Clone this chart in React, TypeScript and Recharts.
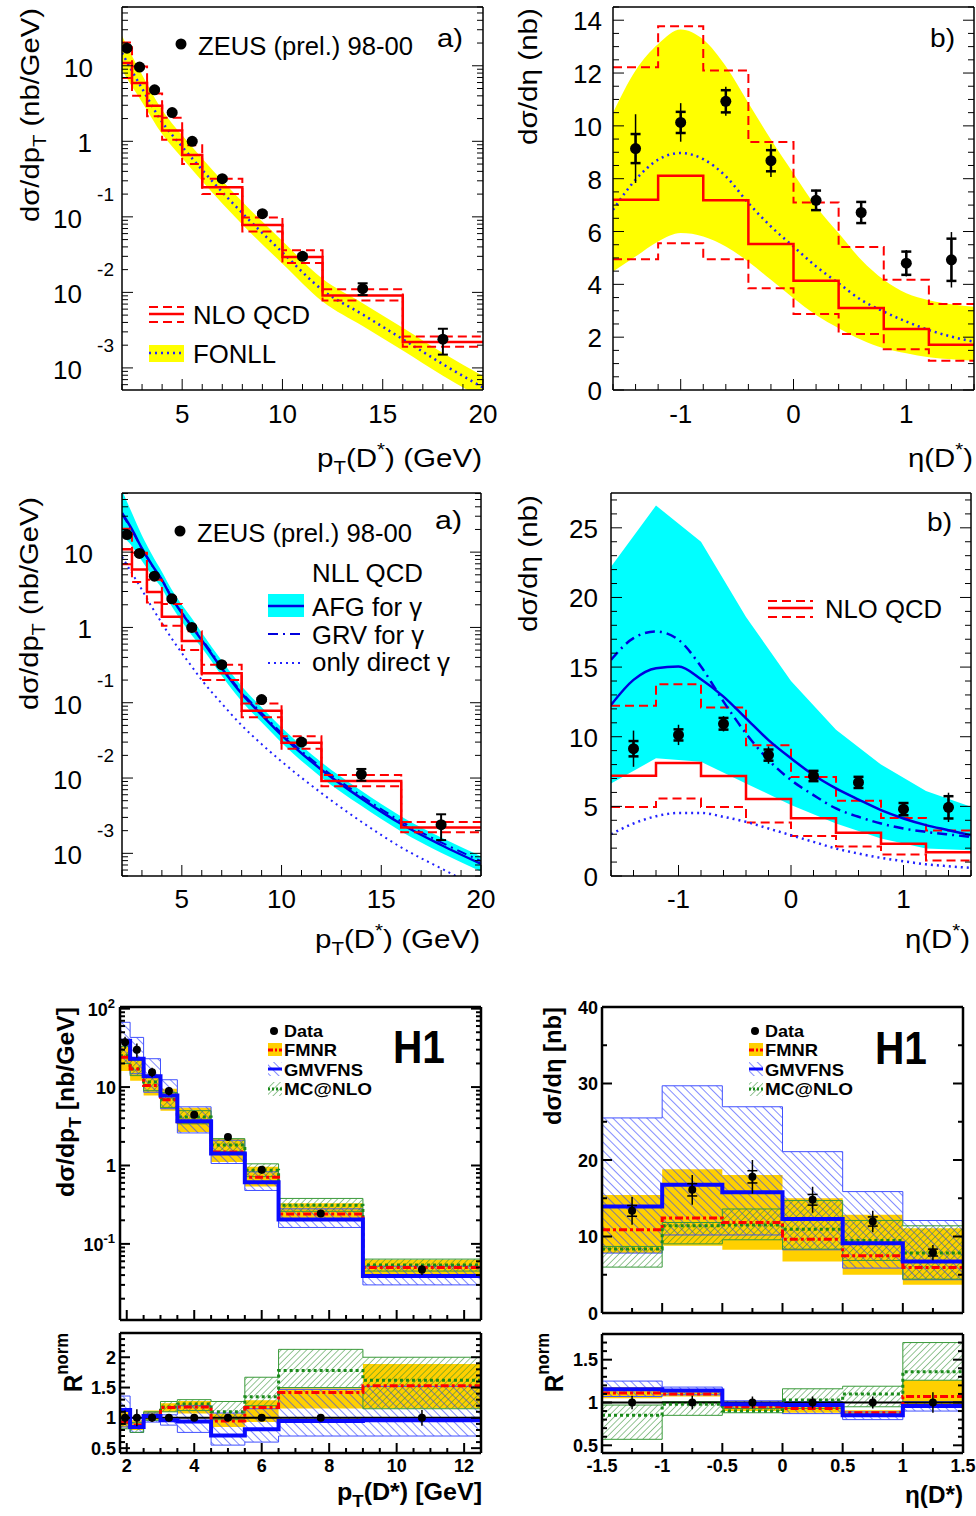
import React from 'react'
import { Area, ComposedChart, ErrorBar, Line, ReferenceLine, Scatter, XAxis, YAxis } from 'recharts'

const SANS = '"Liberation Sans", Arial, Helvetica, sans-serif'
const RED = '#ff0000'
const YELLOW = '#ffff00'
const CYAN = '#00ffff'
const FBLUE = '#2222ff'
const ABLUE = '#0000dd'
const GOLD = '#ffd000'
const GBLUE = '#0a0aff'
const GREEN = '#1a8a1a'

// ---- ZEUS pT (top / middle left)
const ZEUS_PT_X = [2.25, 2.875, 3.625, 4.5, 5.5, 7, 9, 11, 14, 18]
const ZEUS_PT_Y = [17.1, 9.6, 4.8, 2.4, 1.0, 0.32, 0.11, 0.03, 0.0112, 0.0024]
const ZEUS_PT_ERR = [0.8, 0.4, 0.2, 0.1, 0.04, 0.015, 0.005, 0.002, 0.002, 0.0009]

const NLO_PT_EDGES = [2, 2.5, 3.25, 4, 5, 6, 8, 10, 12, 16, 20]
const NLO_PT_MID = [10.9, 5.9, 2.95, 1.39, 0.66, 0.247, 0.078, 0.0295, 0.0091, 0.0022]
const NLO_PT_UP = [20.4, 9.8, 4.3, 2.05, 0.89, 0.32, 0.098, 0.036, 0.011, 0.0026]
const NLO_PT_LO = [6.9, 4.0, 2.15, 1.05, 0.5, 0.2, 0.064, 0.0245, 0.0078, 0.0019]

const FONLL_PT_X = [2, 2.5, 3, 4, 5, 6, 8, 10, 12, 14, 16, 18, 20]
const FONLL_PT_MID = [14.8, 8.5, 5.0, 1.8, 0.85, 0.417, 0.112, 0.0339, 0.0107, 0.0051, 0.0024, 0.00112, 0.00055]
const FONLL_PT_HI = [25, 13.5, 7.6, 2.6, 1.2, 0.59, 0.158, 0.048, 0.0151, 0.0072, 0.0034, 0.00158, 0.00078]
const FONLL_PT_LO = [8.7, 5.3, 3.3, 1.25, 0.6, 0.295, 0.079, 0.024, 0.0076, 0.0036, 0.0017, 0.00079, 0.00039]

const NLL_PT_X = [2, 2.5, 3, 3.5, 4, 4.5, 5, 5.5, 6, 7, 8, 9, 10, 12, 14, 16, 18, 20]
const AFG_PT = [33.1, 20, 11.2, 6.76, 4.27, 2.45, 1.55, 1.02, 0.676, 0.288, 0.132, 0.0692, 0.0372, 0.0129, 0.00537, 0.00245, 0.00129, 0.000724]
const AFG_PT_HI = [66, 33, 16.6, 9.3, 5.5, 3.16, 2.0, 1.32, 0.85, 0.363, 0.166, 0.087, 0.0468, 0.0162, 0.00676, 0.00309, 0.00162, 0.000912]
const AFG_PT_LO = [16.6, 12, 7.6, 4.9, 3.3, 1.9, 1.2, 0.79, 0.537, 0.229, 0.105, 0.055, 0.0295, 0.0102, 0.00427, 0.00195, 0.00102, 0.000575]
const GRV_PT = [32, 19.5, 11, 6.7, 4.3, 2.5, 1.58, 1.05, 0.7, 0.3, 0.138, 0.073, 0.0395, 0.0138, 0.0058, 0.00265, 0.0014, 0.00079]
const DIR_PT = [8.7, 5.25, 3.16, 1.86, 1.14, 0.708, 0.457, 0.302, 0.2, 0.0977, 0.0501, 0.0282, 0.0166, 0.00631, 0.00263, 0.0012, 0.00063, 0.000339]

// ---- ZEUS eta (top / middle right)
const ZEUS_ETA_X = [-1.4, -1.0, -0.6, -0.2, 0.2, 0.6, 1.0, 1.4]
const ZEUS_ETA_Y = [9.14, 10.13, 10.93, 8.68, 7.18, 6.72, 4.8, 4.93]
const ZEUS_ETA_STAT = [0.55, 0.4, 0.42, 0.4, 0.37, 0.4, 0.44, 0.8]
const ZEUS_ETA_TOT = [1.3, 0.73, 0.55, 0.62, 0.4, 0.42, 0.5, 1.05]

const NLO_ETA_EDGES = [-1.6, -1.2, -0.8, -0.4, 0, 0.4, 0.8, 1.2, 1.6]
const NLO_ETA_MID = [7.2, 8.11, 7.18, 5.53, 4.14, 3.1, 2.31, 1.71]
const NLO_ETA_UP = [12.22, 13.77, 12.1, 9.39, 7.1, 5.41, 4.17, 3.26]
const NLO_ETA_LO = [4.95, 5.56, 4.95, 3.85, 2.88, 2.12, 1.54, 1.11]

const ETA_CURVE_X = [-1.6, -1.4, -1.2, -1.0, -0.8, -0.6, -0.4, -0.2, 0, 0.2, 0.4, 0.6, 0.8, 1.0, 1.2, 1.4, 1.6]
const FONLL_ETA_MID = [6.82, 7.96, 8.72, 8.97, 8.74, 8.09, 7.08, 6.19, 5.43, 4.68, 4.04, 3.41, 2.97, 2.59, 2.27, 2.02, 1.83]
const FONLL_ETA_HI = [10.5, 12.1, 13.1, 13.65, 13.27, 12.26, 10.87, 9.48, 8.2, 6.95, 5.94, 4.93, 4.17, 3.66, 3.4, 3.25, 3.15]
const FONLL_ETA_LO = [4.49, 5.05, 5.62, 5.94, 5.81, 5.43, 4.86, 4.17, 3.47, 2.84, 2.34, 1.9, 1.58, 1.39, 1.24, 1.16, 1.11]

const NLL_BAND_X = [-1.6, -1.2, -0.8, -0.4, 0, 0.4, 0.8, 1.2, 1.6]
const NLL_ETA_HI = [22.2, 26.6, 24.0, 18.6, 14.0, 10.5, 8.0, 6.1, 4.97]
const NLL_ETA_LO = [6.65, 8.45, 8.2, 6.65, 5.09, 3.77, 2.69, 1.97, 1.85]
const AFG_ETA = [12.28, 14.08, 14.92, 15.04, 14.13, 12.88, 11.32, 9.76, 8.45, 7.25, 6.29, 5.49, 4.73, 4.13, 3.65, 3.29, 2.93]
const GRV_ETA = [15.52, 17.08, 17.56, 16.96, 15.04, 12.52, 10.24, 8.33, 6.89, 5.81, 4.85, 4.25, 3.77, 3.41, 3.17, 2.98, 2.81]
const DIR_ETA = [3.0, 3.77, 4.29, 4.53, 4.53, 4.25, 3.89, 3.41, 2.93, 2.45, 1.97, 1.61, 1.3, 1.06, 0.84, 0.7, 0.58]

// ---- H1 pT
const H1_PT_EDGES = [1.8, 2.1, 2.5, 3.0, 3.5, 4.5, 5.5, 6.5, 9.0, 12.5]
const H1_PT_X = [1.95, 2.3, 2.75, 3.25, 4.0, 5.0, 6.0, 7.75, 10.75]
const H1_PT_Y = [37.4, 29.9, 15.5, 8.9, 4.45, 2.31, 0.88, 0.245, 0.047]
const H1_PT_ERR = [6.5, 6, 2.2, 1.1, 0.45, 0.22, 0.09, 0.025, 0.007]
const FMNR_PT = [24, 17, 10.5, 6.9, 3.6, 1.49, 0.71, 0.24, 0.05]
const FMNR_PT_LO = [16, 12, 7.8, 5.0, 2.67, 1.11, 0.54, 0.2, 0.04]
const FMNR_PT_HI = [33, 23, 14.5, 9.5, 5.46, 2.2, 0.96, 0.33, 0.063]
const GMV_PT = [39, 23, 13.7, 7.8, 3.66, 1.42, 0.61, 0.205, 0.039]
const GMV_PT_LO = [20, 14.8, 8.6, 5.3, 2.6, 1.06, 0.48, 0.162, 0.03]
const GMV_PT_HI = [67, 43, 23, 12.4, 5.6, 2.1, 0.83, 0.28, 0.052]
const MC_PT = [25, 17, 11.6, 7, 4.15, 1.82, 0.87, 0.31, 0.054]
const MC_PT_LO = [20, 14, 9, 5.5, 3.4, 1.5, 0.72, 0.26, 0.045]
const MC_PT_HI = [33, 22, 14, 8.5, 5.0, 2.2, 1.05, 0.38, 0.064]

const H1_PT_R = [1, 1, 1, 1, 1, 1, 1, 1, 1]
const H1_PT_RERR = [0.12, 0.14, 0.07, 0.06, 0.04, 0.05, 0.05, 0.05, 0.13]
const FMNR_PT_R = [0.93, 0.88, 1.04, 1.17, 1.18, 0.95, 1.17, 1.42, 1.53]
const FMNR_PT_R_LO = [0.84, 0.8, 0.96, 1.1, 1.07, 0.85, 0.93, 1.155, 1.155]
const FMNR_PT_R_HI = [1.1, 0.96, 1.12, 1.24, 1.28, 1.07, 1.29, 1.49, 1.89]
const GMV_PT_R = [1.13, 0.85, 1.03, 0.96, 0.94, 0.71, 0.81, 0.95, 0.96]
const GMV_PT_R_LO = [0.85, 0.76, 0.93, 0.88, 0.76, 0.55, 0.6, 0.7, 0.7]
const GMV_PT_R_HI = [1.36, 1.0, 1.08, 1.05, 1.2, 1.08, 1.15, 1.47, 1.52]
const MC_PT_R = [0.92, 0.85, 1.03, 1.18, 1.23, 1.1, 1.35, 1.78, 1.62]
const MC_PT_R_LO = [0.82, 0.76, 0.96, 1.1, 1.12, 0.97, 1.2, 1.5, 1.15]
const MC_PT_R_HI = [1.0, 0.92, 1.1, 1.27, 1.3, 1.27, 1.67, 2.13, 2.0]

// ---- H1 eta
const H1_ETA_EDGES = [-1.5, -1, -0.5, 0, 0.5, 1, 1.5]
const H1_ETA_X = [-1.25, -0.75, -0.25, 0.25, 0.75, 1.25]
const H1_ETA_Y = [13.35, 16.1, 17.8, 14.8, 11.96, 7.9]
const H1_ETA_STAT = [0.7, 0.8, 0.8, 0.7, 0.6, 0.45]
const H1_ETA_TOT = [1.8, 1.95, 2.2, 1.7, 1.4, 1.0]
const FMNR_ETA = [10.87, 12.43, 11.83, 9.65, 7.48, 5.96]
const FMNR_ETA_LO = [7.83, 8.78, 8.26, 6.74, 5.0, 3.7]
const FMNR_ETA_HI = [15.43, 18.78, 18.04, 15.0, 12.83, 11.09]
const GMV_ETA = [13.91, 16.78, 15.78, 12.3, 9.13, 6.74]
const GMV_ETA_LO = [7.83, 10.2, 10.2, 8.26, 5.87, 4.35]
const GMV_ETA_HI = [25.5, 29.7, 26.96, 21.09, 15.87, 12.09]
const MC_ETA = [8.35, 11.4, 11.5, 10.96, 9.48, 7.83]
const MC_ETA_LO = [6.0, 9.04, 9.57, 8.35, 6.87, 4.43]
const MC_ETA_HI = [8.7, 11.83, 13.6, 14.7, 12.1, 11.4]

const H1_ETA_R = [1, 1, 1, 1, 1, 1]
const H1_ETA_RERR = [0.08, 0.08, 0.07, 0.07, 0.07, 0.12]
const FMNR_ETA_R = [1.11, 1.1, 0.95, 0.93, 0.88, 1.07]
const FMNR_ETA_R_LO = [1.05, 1.07, 0.9, 0.88, 0.83, 0.97]
const FMNR_ETA_R_HI = [1.18, 1.14, 0.97, 0.95, 0.91, 1.26]
const GMV_ETA_R = [1.155, 1.14, 0.98, 0.97, 0.85, 0.96]
const GMV_ETA_R_LO = [1.07, 1.09, 0.93, 0.87, 0.8, 0.9]
const GMV_ETA_R_HI = [1.25, 1.18, 1.02, 1.01, 0.89, 1.01]
const MC_ETA_R = [0.85, 0.98, 0.9, 1.03, 1.1, 1.36]
const MC_ETA_R_LO = [0.57, 0.85, 0.88, 0.93, 0.95, 1.26]
const MC_ETA_R_HI = [0.97, 1.01, 0.93, 1.16, 1.19, 1.7]

// ---- major tick values (labels)
const ZP_X_MAJOR = [5, 10, 15, 20]
const ZP_Y_MAJOR = [0.001, 0.01, 0.1, 1, 10]
const ZE_X_MAJOR = [-1, 0, 1]
const ZE_Y_MAJOR = [0, 2, 4, 6, 8, 10, 12, 14]
const ZE2_Y_MAJOR = [0, 5, 10, 15, 20, 25]
const H1P_X_MAJOR = [2, 4, 6, 8, 10, 12]
const H1P_Y_MAJOR = [0.1, 1, 10, 100]
const H1P_R_MAJOR = [0.5, 1, 1.5, 2]
const H1E_X_MAJOR = [-1.5, -1, -0.5, 0, 0.5, 1, 1.5]
const H1E_Y_MAJOR = [0, 10, 20, 30, 40]
const H1E_R_MAJOR = [0.5, 1, 1.5]

// minor tick positions
function linTicks(lo: number, hi: number, step: number) {
  const out: number[] = []
  const n0 = Math.ceil(lo / step - 1e-9)
  const n1 = Math.floor(hi / step + 1e-9)
  for (let n = n0; n <= n1; n++) out.push(Number((n * step).toFixed(6)) + 0)
  return out
}
function logTicks(lo: number, hi: number) {
  const out: number[] = []
  for (let e = -5; e <= 3; e++)
    for (let m = 1; m <= 9; m++) {
      const v = Number((m * Math.pow(10, e)).toPrecision(6))
      if (v >= lo && v <= hi) out.push(v)
    }
  return out
}
const isMajor = (major: number[], v: number) =>
  major.some((m) => Math.abs(m - v) <= 1e-6 * Math.max(Math.abs(m), 1e-9))

// data shaping
const stepPts = (edges: number[], vals: number[]) =>
  edges.map((x, i) => ({ x, y: vals[Math.min(i, vals.length - 1)] }))
const stepBand = (edges: number[], lo: number[], hi: number[]) =>
  edges.map((x, i) => {
    const k = Math.min(i, lo.length - 1)
    return { x, r: [lo[k], hi[k]] }
  })
const curvePts = (xs: number[], ys: number[]) => xs.map((x, i) => ({ x, y: ys[i] }))
const curveBand = (xs: number[], lo: number[], hi: number[]) => xs.map((x, i) => ({ x, r: [lo[i], hi[i]] }))
const points = (xs: number[], ys: number[], e1: number[], e2?: number[]) =>
  xs.map((x, i) => ({ x, y: ys[i], e1: e1[i], e2: e2 ? e2[i] : 0 }))

type LabelFn = (v: number, x: number, y: number) => React.ReactNode

function tickFn(side: 'b' | 't' | 'l' | 'r', major: number[], len: number, minorLen: number, sw: number, label?: LabelFn) {
  return (p: any) => {
    const v = Number(p.payload?.value)
    const x = Number(p.x)
    const y = Number(p.y)
    const big = isMajor(major, v)
    const L = big ? len : minorLen
    const x2 = side === 'l' ? x + L : side === 'r' ? x - L : x
    const y2 = side === 'b' ? y - L : side === 't' ? y + L : y
    return (
      <g>
        <line x1={x} y1={y} x2={x2} y2={y2} stroke="#000" strokeWidth={sw} />
        {big && label ? label(v, x, y) : null}
      </g>
    )
  }
}

const txt = (x: number, y: number, s: string, anchor = 'end', size = 26, bold = false) => (
  <text x={x} y={y} textAnchor={anchor} fontFamily={SANS} fontSize={size} fontWeight={bold ? 700 : 400} fill="#000">
    {s}
  </text>
)

const zeusLogY: LabelFn = (v, x, y) => {
  const n = Math.round(Math.log10(v))
  if (n === 0) return txt(x - 30, y + 11, '1')
  if (n === 1) return txt(x - 29, y + 11, '10')
  return (
    <g>
      {txt(x - 40, y + 11, '10')}
      {txt(x - 8, y - 16, String(n), 'end', 19)}
    </g>
  )
}
const zeusLinY = (off: number): LabelFn => (v, x, y) => txt(x - off, y + 10, String(v))
const zeusX = (off: number): LabelFn => (v, x, y) => txt(x, y + off, String(v), 'middle')
const h1LogY: LabelFn = (v, x, y) => {
  const n = Math.round(Math.log10(v))
  if (n === 0) return txt(x - 4, y + 7, '1', 'end', 18, true)
  if (n === 1) return txt(x - 4, y + 7, '10', 'end', 18, true)
  return (
    <text x={x - 5} y={y + 7} textAnchor="end" fontFamily={SANS} fontSize={18} fontWeight={700}>
      10<tspan dy={-8} fontSize={13}>{String(n)}</tspan>
    </text>
  )
}
const h1LinY: LabelFn = (v, x, y) => txt(x - 4, y + 6.5, String(v), 'end', 18, true)
const h1X: LabelFn = (v, x, y) => txt(x, y + 19, String(v), 'middle', 18, true)

type PanelProps = {
  box: number[]
  plot: number[]
  xDomain: [number, number]
  yDomain: [number, number]
  yLog?: boolean
  xTicks: number[]
  xMajor: number[]
  yTicks: number[]
  yMajor: number[]
  xLabel?: LabelFn
  yLabel?: LabelFn
  len: number
  minorLen: number
  tickW: number
  frameW: number
  children?: React.ReactNode
}

function Panel(p: PanelProps) {
  const [bx, by, bw, bh] = p.box
  const [l, t, r, b] = p.plot
  const margin = { left: l - bx - 1, top: t - by - 1, right: bx + bw - r - 1, bottom: by + bh - b - 1 }
  const axisLine = { stroke: '#000', strokeWidth: p.frameW }
  const scale = p.yLog ? 'log' : 'linear'
  return (
    <div style={{ position: 'absolute', left: bx, top: by }}>
      <ComposedChart width={bw} height={bh} margin={margin}>
        <XAxis xAxisId={0} type="number" dataKey="x" orientation="bottom" height={1} domain={p.xDomain}
          allowDataOverflow ticks={p.xTicks} interval={0} tickSize={0} tickMargin={0} tickLine={false} axisLine={axisLine}
          tick={tickFn('b', p.xMajor, p.len, p.minorLen, p.tickW, p.xLabel)} />
        <XAxis xAxisId="top" type="number" orientation="top" height={1} domain={p.xDomain}
          allowDataOverflow ticks={p.xTicks} interval={0} tickSize={0} tickMargin={0} tickLine={false} axisLine={axisLine}
          tick={tickFn('t', p.xMajor, p.len, p.minorLen, p.tickW)} />
        <YAxis yAxisId={0} type="number" dataKey="y" orientation="left" width={1} scale={scale} domain={p.yDomain}
          allowDataOverflow ticks={p.yTicks} interval={0} tickSize={0} tickMargin={0} tickLine={false} axisLine={axisLine}
          tick={tickFn('l', p.yMajor, p.len, p.minorLen, p.tickW, p.yLabel)} />
        <YAxis yAxisId="right" type="number" orientation="right" width={1} scale={scale} domain={p.yDomain}
          allowDataOverflow ticks={p.yTicks} interval={0} tickSize={0} tickMargin={0} tickLine={false} axisLine={axisLine}
          tick={tickFn('r', p.yMajor, p.len, p.minorLen, p.tickW)} />
        {p.children}
      </ComposedChart>
    </div>
  )
}

function stepLine(key: string, edges: number[], vals: number[], stroke: string, width: number, dash?: string) {
  return (
    <Line key={key} data={stepPts(edges, vals)} dataKey="y" type="stepAfter" stroke={stroke} strokeWidth={width}
      strokeDasharray={dash} dot={false} activeDot={false} isAnimationActive={false} />
  )
}
function curveLine(key: string, xs: number[], ys: number[], stroke: string, width: number, dash?: string, type: any = 'monotone') {
  return (
    <Line key={key} data={curvePts(xs, ys)} dataKey="y" type={type} stroke={stroke} strokeWidth={width}
      strokeDasharray={dash} dot={false} activeDot={false} isAnimationActive={false} />
  )
}
function band(key: string, data: any[], fill: string, type: any, stroke = 'none', sw = 1) {
  return (
    <Area key={key} data={data} dataKey="r" type={type} fill={fill} fillOpacity={1} stroke={stroke} strokeWidth={sw}
      dot={false} activeDot={false} isAnimationActive={false} />
  )
}
// cap = half-width of the error-bar cap
function dataPts(key: string, pts: any[], r: number, cap: number, sw: number, cap2 = 0, sw2 = 0) {
  return (
    <Scatter key={key} data={pts} dataKey="y" isAnimationActive={false}
      shape={(s: any) => <circle cx={s.cx} cy={s.cy} r={r} fill="#000" />}>
      <ErrorBar dataKey="e1" direction="y" width={cap} stroke="#000" strokeWidth={sw} />
      {sw2 > 0 ? <ErrorBar dataKey="e2" direction="y" width={cap2} stroke="#000" strokeWidth={sw2} /> : null}
    </Scatter>
  )
}

const ZEUS_STYLE = { len: 11, minorLen: 6, tickW: 1, frameW: 1.5 }
const H1_STYLE = { len: 10, minorLen: 5, tickW: 2, frameW: 2.5 }

function Txt({ x, y, size, bold, len, rot, anchor, children }: any) {
  const tr = rot ? `translate(${x},${y}) rotate(-90)` : undefined
  return (
    <text x={rot ? 0 : x} y={rot ? 0 : y} transform={tr} fontFamily={SANS} fontSize={size} fontWeight={bold ? 700 : 400}
      textAnchor={anchor ?? 'start'} textLength={len} lengthAdjust={len ? 'spacingAndGlyphs' : undefined} fill="#000">
      {children}
    </text>
  )
}

function H1Legend({ x, y }: { x: number; y: number }) {
  // x: text start, y: baseline of "Data"
  const sx = x - 16
  return (
    <g>
      <circle cx={x - 10} cy={y - 6} r={4} fill="#000" />
      <Txt x={x} y={y} size={17} bold len={39}>Data</Txt>
      <rect x={sx} y={y + 6} width={14} height={13} fill={GOLD} />
      <line x1={sx} x2={sx + 14} y1={y + 13} y2={y + 13} stroke={RED} strokeWidth={3} strokeDasharray="5 2 2 2" />
      <Txt x={x} y={y + 19} size={17} bold len={53}>FMNR</Txt>
      <rect x={sx} y={y + 25} width={14} height={14} fill="url(#hBlue)" />
      <line x1={sx} x2={sx + 14} y1={y + 32} y2={y + 32} stroke={GBLUE} strokeWidth={3} />
      <Txt x={x} y={y + 39} size={17} bold len={79}>GMVFNS</Txt>
      <rect x={sx} y={y + 45} width={14} height={14} fill="url(#hGreen)" />
      <line x1={sx} x2={sx + 14} y1={y + 52} y2={y + 52} stroke={GREEN} strokeWidth={3} strokeDasharray="2 2" />
      <Txt x={x} y={y + 58} size={17} bold len={88}>MC@NLO</Txt>
    </g>
  )
}

function Overlay() {
  return (
    <svg width={976} height={1516} style={{ position: 'absolute', left: 0, top: 0, pointerEvents: 'none' }}>
      {/* ---- top left */}
      <circle cx={181} cy={44} r={5.5} fill="#000" />
      <Txt x={198} y={55} size={26} len={215}>ZEUS (prel.) 98-00</Txt>
      <Txt x={437} y={47} size={26} len={26}>a)</Txt>
      <line x1={149} x2={184} y1={307} y2={307} stroke={RED} strokeWidth={2} strokeDasharray="9 5" />
      <line x1={149} x2={184} y1={314} y2={314} stroke={RED} strokeWidth={2.5} />
      <line x1={149} x2={184} y1={322} y2={322} stroke={RED} strokeWidth={2} strokeDasharray="9 5" />
      <Txt x={193} y={324} size={26} len={117}>NLO QCD</Txt>
      <rect x={149} y={345} width={35} height={17} fill={YELLOW} />
      <line x1={149} x2={184} y1={353} y2={353} stroke={FBLUE} strokeWidth={2.5} strokeDasharray="2 4" />
      <Txt x={193} y={363} size={26} len={83}>FONLL</Txt>
      <Txt x={39} y={222} size={26} rot len={214}>
        dσ/dp<tspan dy={7} fontSize={18}>T</tspan><tspan dy={-7}> (nb/GeV)</tspan>
      </Txt>
      <Txt x={317} y={467} size={26} len={165}>
        p<tspan dy={7} fontSize={18}>T</tspan><tspan dy={-7}>(D</tspan><tspan dy={-11} fontSize={18}>*</tspan><tspan dy={11}>) (GeV)</tspan>
      </Txt>

      {/* ---- top right */}
      <Txt x={930} y={47} size={26} len={25}>b)</Txt>
      <Txt x={537} y={145} size={26} rot len={137}>dσ/dη (nb)</Txt>
      <Txt x={908} y={467} size={26} len={65}>
        η(D<tspan dy={-11} fontSize={18}>*</tspan><tspan dy={11}>)</tspan>
      </Txt>

      {/* ---- middle left */}
      <circle cx={180} cy={531} r={5.5} fill="#000" />
      <Txt x={197} y={542} size={26} len={215}>ZEUS (prel.) 98-00</Txt>
      <Txt x={435} y={529} size={26} len={27}>a)</Txt>
      <Txt x={312} y={582} size={26} len={111}>NLL QCD</Txt>
      <rect x={268} y={594} width={36} height={23} fill={CYAN} />
      <line x1={268} x2={304} y1={606} y2={606} stroke={ABLUE} strokeWidth={2.5} />
      <Txt x={312} y={616} size={26} len={110}>AFG for γ</Txt>
      <line x1={268} x2={304} y1={634} y2={634} stroke={ABLUE} strokeWidth={2} strokeDasharray="10 5 2 5" />
      <Txt x={312} y={644} size={26} len={112}>GRV for γ</Txt>
      <line x1={268} x2={304} y1={663} y2={663} stroke={FBLUE} strokeWidth={2} strokeDasharray="2 4" />
      <Txt x={312} y={671} size={26} len={138}>only direct γ</Txt>
      <Txt x={38} y={710} size={26} rot len={213}>
        dσ/dp<tspan dy={7} fontSize={18}>T</tspan><tspan dy={-7}> (nb/GeV)</tspan>
      </Txt>
      <Txt x={315} y={948} size={26} len={165}>
        p<tspan dy={7} fontSize={18}>T</tspan><tspan dy={-7}>(D</tspan><tspan dy={-11} fontSize={18}>*</tspan><tspan dy={11}>) (GeV)</tspan>
      </Txt>

      {/* ---- middle right */}
      <Txt x={927} y={531} size={26} len={25}>b)</Txt>
      <line x1={768} x2={813} y1={601} y2={601} stroke={RED} strokeWidth={2} strokeDasharray="9 5" />
      <line x1={768} x2={813} y1={608} y2={608} stroke={RED} strokeWidth={2.5} />
      <line x1={768} x2={813} y1={617} y2={617} stroke={RED} strokeWidth={2} strokeDasharray="9 5" />
      <Txt x={825} y={618} size={26} len={117}>NLO QCD</Txt>
      <Txt x={537} y={632} size={26} rot len={137}>dσ/dη (nb)</Txt>
      <Txt x={905} y={948} size={26} len={65}>
        η(D<tspan dy={-11} fontSize={18}>*</tspan><tspan dy={11}>)</tspan>
      </Txt>

      {/* ---- H1 pT */}
      <H1Legend x={284} y={1037} />
      <Txt x={393} y={1063} size={46} bold len={52}>H1</Txt>
      <Txt x={74} y={1197} size={24} bold rot len={190}>
        dσ/dp<tspan dy={7} fontSize={17}>T</tspan><tspan dy={-7}> [nb/GeV]</tspan>
      </Txt>
      <Txt x={82} y={1392} size={26} bold rot len={59}>
        R<tspan dy={-14} fontSize={18}>norm</tspan>
      </Txt>
      <Txt x={337} y={1500} size={23} bold len={145}>
        p<tspan dy={7} fontSize={17}>T</tspan><tspan dy={-7}>(D*) [GeV]</tspan>
      </Txt>

      {/* ---- H1 eta */}
      <H1Legend x={765} y={1037} />
      <Txt x={875} y={1064} size={46} bold len={52}>H1</Txt>
      <Txt x={561} y={1125} size={24} bold rot len={118}>dσ/dη [nb]</Txt>
      <Txt x={563} y={1392} size={26} bold rot len={59}>
        R<tspan dy={-14} fontSize={18}>norm</tspan>
      </Txt>
      <Txt x={905} y={1503} size={23} bold len={58}>η(D*)</Txt>
    </svg>
  )
}

function Patterns() {
  return (
    <svg width={0} height={0} style={{ position: 'absolute' }}>
      <defs>
        <pattern id="hBlue" patternUnits="userSpaceOnUse" width={6} height={6} patternTransform="rotate(-45)">
          <line x1={0} y1={0} x2={0} y2={6} stroke="#2f3fff" strokeWidth={1.2} />
        </pattern>
        <pattern id="hGreen" patternUnits="userSpaceOnUse" width={4.5} height={4.5} patternTransform="rotate(45)">
          <line x1={0} y1={0} x2={0} y2={4.5} stroke="#2a8a2a" strokeWidth={1} />
        </pattern>
      </defs>
    </svg>
  )
}

export default function App() {
  return (
    <div style={{ position: 'absolute', left: 0, top: 0, width: 976, height: 1516, background: '#fff', overflow: 'hidden' }}>
      <Patterns />

      {/* a) ZEUS pT vs NLO / FONLL */}
      <Panel box={[0, 0, 500, 440]} plot={[122, 7, 483, 390]} xDomain={[2, 20]} yDomain={[5.1e-4, 60]} yLog
        xTicks={linTicks(2, 20, 1)} xMajor={ZP_X_MAJOR} yTicks={logTicks(5.1e-4, 60)} yMajor={ZP_Y_MAJOR}
        xLabel={zeusX(33)} yLabel={zeusLogY} {...ZEUS_STYLE}>
        {band('fonll', curveBand(FONLL_PT_X, FONLL_PT_LO, FONLL_PT_HI), YELLOW, 'monotone')}
        {curveLine('fonll-c', FONLL_PT_X, FONLL_PT_MID, FBLUE, 2.5, '2 4')}
        {stepLine('nlo-up', NLO_PT_EDGES, NLO_PT_UP, RED, 2, '9 5')}
        {stepLine('nlo-lo', NLO_PT_EDGES, NLO_PT_LO, RED, 2, '9 5')}
        {stepLine('nlo-mid', NLO_PT_EDGES, NLO_PT_MID, RED, 2.5)}
        {dataPts('zeus', points(ZEUS_PT_X, ZEUS_PT_Y, ZEUS_PT_ERR), 5.5, 5, 2)}
      </Panel>

      {/* b) ZEUS eta vs NLO / FONLL */}
      <Panel box={[540, 0, 436, 440]} plot={[613, 7, 974, 390]} xDomain={[-1.6, 1.6]} yDomain={[0, 14.5]}
        xTicks={linTicks(-1.6, 1.6, 0.2)} xMajor={ZE_X_MAJOR} yTicks={linTicks(0, 14.5, 0.5)} yMajor={ZE_Y_MAJOR}
        xLabel={zeusX(33)} yLabel={zeusLinY(11)} {...ZEUS_STYLE}>
        {band('fonll-e', curveBand(ETA_CURVE_X, FONLL_ETA_LO, FONLL_ETA_HI), YELLOW, 'monotone')}
        {curveLine('fonll-ec', ETA_CURVE_X, FONLL_ETA_MID, FBLUE, 2.5, '2 4')}
        {stepLine('nloe-up', NLO_ETA_EDGES, NLO_ETA_UP, RED, 2, '9 5')}
        {stepLine('nloe-lo', NLO_ETA_EDGES, NLO_ETA_LO, RED, 2, '9 5')}
        {stepLine('nloe-mid', NLO_ETA_EDGES, NLO_ETA_MID, RED, 2.5)}
        {dataPts('zeus-e', points(ZEUS_ETA_X, ZEUS_ETA_Y, ZEUS_ETA_STAT, ZEUS_ETA_TOT), 5.5, 5, 2.5, 0, 1.5)}
      </Panel>

      {/* a) ZEUS pT vs NLL */}
      <Panel box={[0, 480, 500, 440]} plot={[122, 493, 481, 876]} xDomain={[2, 20]} yDomain={[5.0e-4, 61]} yLog
        xTicks={linTicks(2, 20, 1)} xMajor={ZP_X_MAJOR} yTicks={logTicks(5.0e-4, 61)} yMajor={ZP_Y_MAJOR}
        xLabel={zeusX(32)} yLabel={zeusLogY} {...ZEUS_STYLE}>
        {band('afg', curveBand(NLL_PT_X, AFG_PT_LO, AFG_PT_HI), CYAN, 'monotone')}
        {curveLine('dir', NLL_PT_X, DIR_PT, FBLUE, 2, '2 4')}
        {curveLine('grv', NLL_PT_X, GRV_PT, ABLUE, 2, '10 5 2 5')}
        {curveLine('afg-c', NLL_PT_X, AFG_PT, ABLUE, 2.5)}
        {stepLine('nlo2-up', NLO_PT_EDGES, NLO_PT_UP, RED, 2, '9 5')}
        {stepLine('nlo2-lo', NLO_PT_EDGES, NLO_PT_LO, RED, 2, '9 5')}
        {stepLine('nlo2-mid', NLO_PT_EDGES, NLO_PT_MID, RED, 2.5)}
        {dataPts('zeus2', points(ZEUS_PT_X, ZEUS_PT_Y, ZEUS_PT_ERR), 5.5, 5, 2)}
      </Panel>

      {/* b) ZEUS eta vs NLL */}
      <Panel box={[540, 480, 436, 440]} plot={[611, 493, 971, 876]} xDomain={[-1.6, 1.6]} yDomain={[0, 27.5]}
        xTicks={linTicks(-1.6, 1.6, 0.2)} xMajor={ZE_X_MAJOR} yTicks={linTicks(0, 27.5, 1)} yMajor={ZE2_Y_MAJOR}
        xLabel={zeusX(32)} yLabel={zeusLinY(13)} {...ZEUS_STYLE}>
        {band('nll-e', curveBand(NLL_BAND_X, NLL_ETA_LO, NLL_ETA_HI), CYAN, 'linear')}
        {stepLine('nloe2-up', NLO_ETA_EDGES, NLO_ETA_UP, RED, 2, '9 5')}
        {stepLine('nloe2-lo', NLO_ETA_EDGES, NLO_ETA_LO, RED, 2, '9 5')}
        {stepLine('nloe2-mid', NLO_ETA_EDGES, NLO_ETA_MID, RED, 2.5)}
        {curveLine('dir-e', ETA_CURVE_X, DIR_ETA, FBLUE, 2.5, '2 4')}
        {curveLine('grv-e', ETA_CURVE_X, GRV_ETA, ABLUE, 2.5, '10 5 2 5')}
        {curveLine('afg-e', ETA_CURVE_X, AFG_ETA, ABLUE, 2.5)}
        {dataPts('zeus-e2', points(ZEUS_ETA_X, ZEUS_ETA_Y, ZEUS_ETA_STAT, ZEUS_ETA_TOT), 5.5, 5, 2.5, 0, 1.5)}
      </Panel>

      {/* H1 pT */}
      <Panel box={[0, 995, 500, 330]} plot={[120, 1007, 481, 1320]} xDomain={[1.8, 12.5]} yDomain={[0.0107, 105]} yLog
        xTicks={linTicks(1.8, 12.5, 0.5)} xMajor={H1P_X_MAJOR} yTicks={logTicks(0.0107, 105)} yMajor={H1P_Y_MAJOR}
        yLabel={h1LogY} {...H1_STYLE}>
        {band('fmnr-b', stepBand(H1_PT_EDGES, FMNR_PT_LO, FMNR_PT_HI), GOLD, 'stepAfter')}
        {band('gmv-b', stepBand(H1_PT_EDGES, GMV_PT_LO, GMV_PT_HI), 'url(#hBlue)', 'stepAfter', '#4050ff', 1)}
        {band('mc-b', stepBand(H1_PT_EDGES, MC_PT_LO, MC_PT_HI), 'url(#hGreen)', 'stepAfter', '#3a9a3a', 1)}
        {stepLine('mc-l', H1_PT_EDGES, MC_PT, GREEN, 3, '3 3')}
        {stepLine('fmnr-l', H1_PT_EDGES, FMNR_PT, RED, 3, '8 3 3 3')}
        {stepLine('gmv-l', H1_PT_EDGES, GMV_PT, GBLUE, 4)}
        {dataPts('h1p', points(H1_PT_X, H1_PT_Y, H1_PT_ERR), 4, 0, 1.5)}
      </Panel>

      {/* H1 pT ratio */}
      <Panel box={[0, 1325, 500, 155]} plot={[120, 1333, 481, 1453]} xDomain={[1.8, 12.5]} yDomain={[0.42, 2.4]}
        xTicks={linTicks(1.8, 12.5, 0.5)} xMajor={H1P_X_MAJOR} yTicks={linTicks(0.5, 2.4, 0.1)} yMajor={H1P_R_MAJOR}
        xLabel={h1X} yLabel={h1LinY} {...H1_STYLE}>
        {band('fmnr-rb', stepBand(H1_PT_EDGES, FMNR_PT_R_LO, FMNR_PT_R_HI), GOLD, 'stepAfter')}
        {band('gmv-rb', stepBand(H1_PT_EDGES, GMV_PT_R_LO, GMV_PT_R_HI), 'url(#hBlue)', 'stepAfter', '#4050ff', 1)}
        {band('mc-rb', stepBand(H1_PT_EDGES, MC_PT_R_LO, MC_PT_R_HI), 'url(#hGreen)', 'stepAfter', '#3a9a3a', 1)}
        <ReferenceLine key="one-p" y={1} stroke="#000" strokeWidth={2} />
        {stepLine('mc-rl', H1_PT_EDGES, MC_PT_R, GREEN, 3, '3 3')}
        {stepLine('fmnr-rl', H1_PT_EDGES, FMNR_PT_R, RED, 3, '8 3 3 3')}
        {stepLine('gmv-rl', H1_PT_EDGES, GMV_PT_R, GBLUE, 4)}
        {dataPts('h1pr', points(H1_PT_X, H1_PT_R, H1_PT_RERR), 4, 0, 1.5)}
      </Panel>

      {/* H1 eta */}
      <Panel box={[540, 995, 436, 330]} plot={[602, 1007, 963, 1313]} xDomain={[-1.5, 1.5]} yDomain={[0, 40]}
        xTicks={linTicks(-1.5, 1.5, 0.25)} xMajor={H1E_X_MAJOR} yTicks={linTicks(0, 40, 5)} yMajor={H1E_Y_MAJOR}
        yLabel={h1LinY} {...H1_STYLE}>
        {band('fmnr-eb', stepBand(H1_ETA_EDGES, FMNR_ETA_LO, FMNR_ETA_HI), GOLD, 'stepAfter')}
        {band('gmv-eb', stepBand(H1_ETA_EDGES, GMV_ETA_LO, GMV_ETA_HI), 'url(#hBlue)', 'stepAfter', '#4050ff', 1)}
        {band('mc-eb', stepBand(H1_ETA_EDGES, MC_ETA_LO, MC_ETA_HI), 'url(#hGreen)', 'stepAfter', '#3a9a3a', 1)}
        {stepLine('mc-el', H1_ETA_EDGES, MC_ETA, GREEN, 3, '3 3')}
        {stepLine('fmnr-el', H1_ETA_EDGES, FMNR_ETA, RED, 3, '8 3 3 3')}
        {stepLine('gmv-el', H1_ETA_EDGES, GMV_ETA, GBLUE, 4)}
        {dataPts('h1e', points(H1_ETA_X, H1_ETA_Y, H1_ETA_STAT, H1_ETA_TOT), 4, 5, 1.5, 0, 1.5)}
      </Panel>

      {/* H1 eta ratio */}
      <Panel box={[540, 1325, 436, 155]} plot={[602, 1334, 963, 1453]} xDomain={[-1.5, 1.5]} yDomain={[0.41, 1.8]}
        xTicks={linTicks(-1.5, 1.5, 0.25)} xMajor={H1E_X_MAJOR} yTicks={linTicks(0.5, 1.8, 0.1)} yMajor={H1E_R_MAJOR}
        xLabel={h1X} yLabel={h1LinY} {...H1_STYLE}>
        {band('fmnr-erb', stepBand(H1_ETA_EDGES, FMNR_ETA_R_LO, FMNR_ETA_R_HI), GOLD, 'stepAfter')}
        {band('gmv-erb', stepBand(H1_ETA_EDGES, GMV_ETA_R_LO, GMV_ETA_R_HI), 'url(#hBlue)', 'stepAfter', '#4050ff', 1)}
        {band('mc-erb', stepBand(H1_ETA_EDGES, MC_ETA_R_LO, MC_ETA_R_HI), 'url(#hGreen)', 'stepAfter', '#3a9a3a', 1)}
        <ReferenceLine key="one-e" y={1} stroke="#000" strokeWidth={2} />
        {stepLine('mc-erl', H1_ETA_EDGES, MC_ETA_R, GREEN, 3, '3 3')}
        {stepLine('fmnr-erl', H1_ETA_EDGES, FMNR_ETA_R, RED, 3, '8 3 3 3')}
        {stepLine('gmv-erl', H1_ETA_EDGES, GMV_ETA_R, GBLUE, 4)}
        {dataPts('h1er', points(H1_ETA_X, H1_ETA_R, H1_ETA_RERR), 4, 0, 1.5)}
      </Panel>

      <Overlay />
    </div>
  )
}
